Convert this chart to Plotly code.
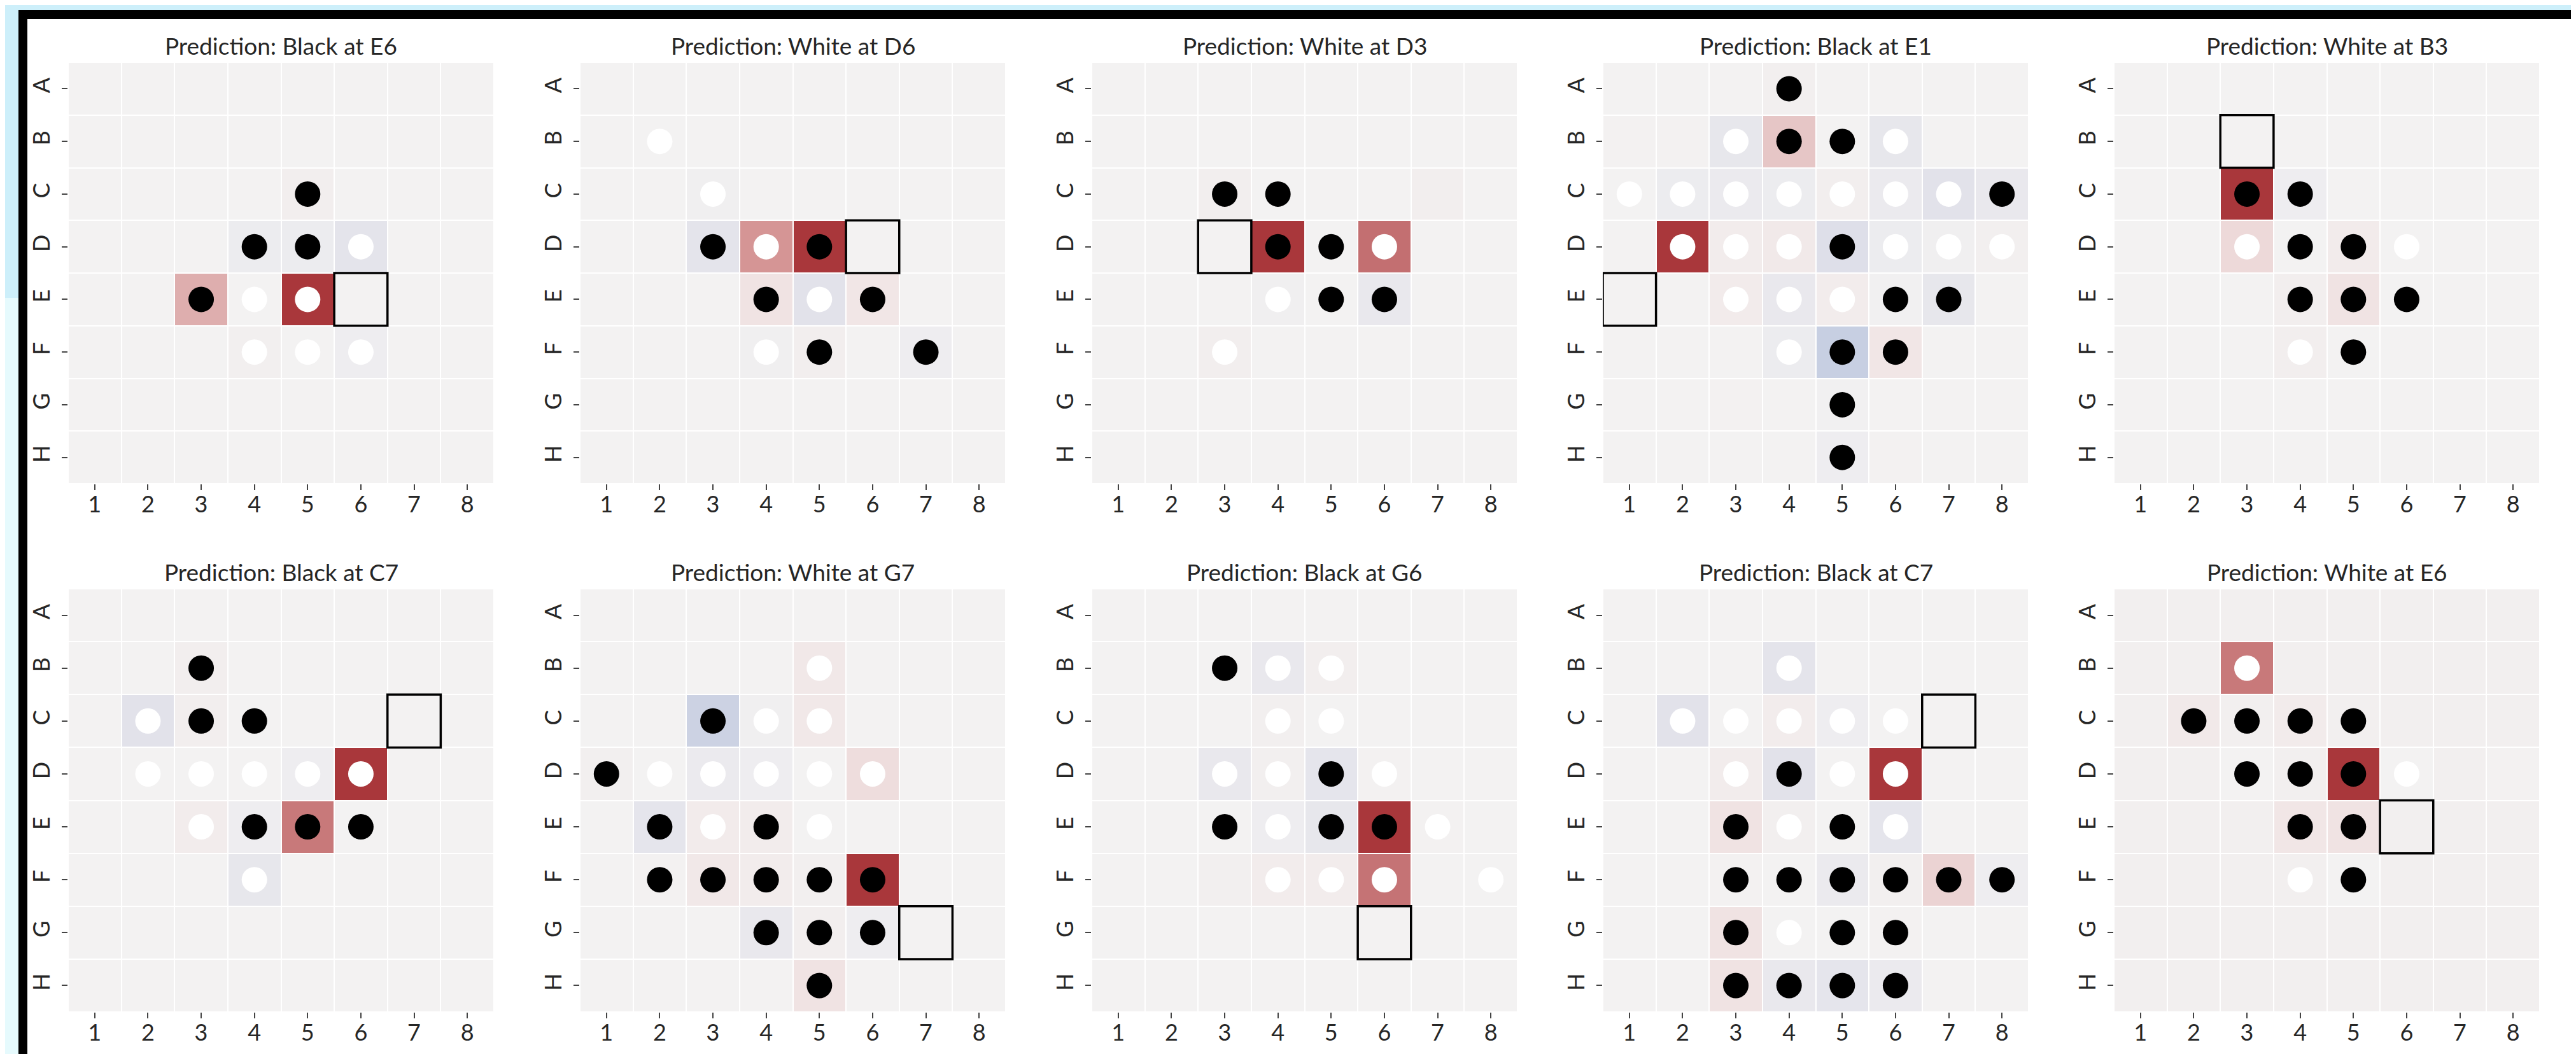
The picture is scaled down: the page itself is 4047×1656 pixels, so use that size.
import plotly.graph_objects as go

ROWS = ["A", "B", "C", "D", "E", "F", "G", "H"]
COLS = [1, 2, 3, 4, 5, 6, 7, 8]

TITLES = [
    "Prediction: Black at E6", "Prediction: White at D6", "Prediction: White at D3",
    "Prediction: Black at E1", "Prediction: White at B3",
    "Prediction: Black at C7", "Prediction: White at G7", "Prediction: Black at G6",
    "Prediction: Black at C7", "Prediction: White at E6",
]
PREDICTIONS = ["E6", "D6", "D3", "E1", "B3", "C7", "G7", "G6", "C7", "E6"]

# board states: B = black disc, W = white disc, . = empty
BOARD_1 = ["........", "........", "....B...", "...BBW..", "..BWW...", "...WWW..", "........", "........"]
BOARD_2 = ["........", ".W......", "..W.....", "..BWB...", "...BWB..", "...WB.B.", "........", "........"]
BOARD_3 = ["........", "........", "..BB....", "...BBW..", "...WBB..", "..W.....", "........", "........"]
BOARD_4 = ["...B....", "..WBBW..", "WWWWWWWB", ".WWWBWWW", "..WWWBB.", "...WBB..", "....B...", "....B..."]
BOARD_5 = ["........", "........", "..BB....", "..WBBW..", "...BBB..", "...WB...", "........", "........"]
BOARD_6 = ["........", "..B.....", ".WBB....", ".WWWWW..", "..WBBB..", "...W....", "........", "........"]
BOARD_7 = ["........", "....W...", "..BWW...", "BWWWWW..", ".BWBW...", ".BBBBB..", "...BBB..", "....B..."]
BOARD_8 = ["........", "..BWW...", "...WW...", "..WWBW..", "..BWBBW.", "...WWW.W", "........", "........"]
BOARD_9 = ["........", "...W....", ".WWWWW..", "..WBWW..", "..BWBW..", "..BBBBBB", "..BWBB..", "..BBBB.."]
BOARD_10 = ["........", "..W.....", ".BBBB...", "..BBBW..", "...BB...", "...WB...", "........", "........"]
BOARDS = [BOARD_1, BOARD_2, BOARD_3, BOARD_4, BOARD_5, BOARD_6, BOARD_7, BOARD_8, BOARD_9, BOARD_10]

Z0 = [0, 0, 0, 0, 0, 0, 0, 0]
HEAT_1 = [Z0, Z0,
          [0, 0, 0, 0, 0.03, 0, 0, 0],
          [0, 0, 0, -0.04, -0.04, -0.09, 0, 0],
          [0, 0, 0.37, 0, 1.0, 0, 0, 0],
          [0, 0, 0, 0.02, 0, -0.03, 0, 0],
          Z0, Z0]
HEAT_2 = [Z0, Z0,
          [0, 0, -0.02, 0, 0, 0, 0, 0],
          [0, 0, -0.09, 0.5, 1.0, 0, 0, 0],
          [0, 0, 0, 0.1, -0.1, 0.08, 0, 0],
          [0, 0, 0, -0.02, 0.03, 0, -0.03, 0],
          Z0, Z0]
HEAT_3 = [Z0, Z0,
          [0, 0, 0.03, 0, 0, 0, 0.03, 0],
          [0, 0, 0, 1.0, 0, 0.7, 0, 0],
          [0, 0, 0, -0.02, 0, -0.06, 0, 0],
          [0, 0, 0.03, 0, 0, 0, 0, 0],
          Z0, Z0]
HEAT_4 = [[0, 0, 0, 0.02, 0, 0, 0, 0],
          [0.01, 0.01, -0.07, 0.25, 0, -0.07, 0, 0],
          [0, -0.04, -0.05, -0.04, 0.03, -0.05, -0.1, -0.06],
          [0, 1.0, 0.04, 0.06, -0.12, -0.04, -0.02, 0.02],
          [0, 0, 0.05, -0.06, 0.04, -0.01, -0.07, 0],
          [0, 0, 0, -0.04, -0.22, 0.08, 0, 0],
          [0, 0, 0.01, 0, -0.01, 0, 0, 0],
          [0, 0, 0, 0, -0.03, 0.01, 0, 0]]
HEAT_5 = [Z0, Z0,
          [0, 0, 1.0, -0.03, 0, 0, 0, 0],
          [0, 0, 0.15, 0, 0.05, 0, 0, 0],
          [0, 0, 0, 0.03, 0.1, 0, 0, 0],
          [0, 0, 0, 0.03, 0, 0, 0, 0],
          Z0, Z0]
HEAT_6 = [Z0,
          [0, 0, 0.03, 0, 0, 0, 0, 0],
          [0, -0.1, 0.03, 0, 0, 0, 0, 0],
          [0, 0, 0, 0, -0.03, 1.0, 0, 0],
          [0, 0, 0.04, -0.03, 0.65, 0, 0, 0],
          [0, 0, 0, -0.07, 0, 0, 0, 0],
          Z0, Z0]
HEAT_7 = [Z0,
          [0, 0, 0, 0, 0.07, 0, 0, 0],
          [0, 0, -0.2, -0.02, 0.07, 0, 0, 0],
          [0.02, 0, -0.05, -0.03, 0, 0.13, 0, 0],
          [0, -0.08, 0.05, 0.04, 0, 0, 0, 0],
          [0, 0.01, 0.07, 0.04, 0.02, 1.0, 0, 0],
          [0, 0, 0, -0.06, 0.03, -0.03, 0, 0],
          [0, 0, 0, 0, 0.1, 0, 0, 0]]
HEAT_8 = [Z0,
          [0, 0, 0, -0.06, 0.03, 0, 0, 0],
          [0, 0, 0, 0.02, 0, 0, 0, 0],
          [0, 0, -0.06, 0.02, -0.08, 0.01, 0, 0],
          [0, 0, 0, -0.03, -0.07, 1.0, 0.01, 0],
          [0, 0, 0.02, 0.04, 0.04, 0.68, 0, 0],
          Z0, Z0]
HEAT_9 = [Z0,
          [0, 0, 0, -0.09, 0, 0, 0, 0],
          [0, -0.1, 0, 0.04, -0.03, 0, 0, 0],
          [0, 0, 0.04, -0.1, 0, 1.0, 0, 0],
          [0, 0, 0.1, 0.02, 0, -0.08, 0, 0],
          [0, 0, 0.01, 0, -0.05, 0.02, 0.18, -0.03],
          [0, 0, 0.1, 0, 0, 0.01, 0, 0],
          [0, 0, 0.1, -0.06, -0.08, -0.05, 0, 0]]
HEAT_10 = [[0.02, 0.02, 0.02, 0.02, 0.02, 0.02, 0.02, 0.02],
           [0.02, 0.02, 0.65, 0.02, 0.02, 0.02, 0.02, 0.02],
           [0.02, 0.06, 0.02, 0.05, 0.02, 0.02, 0.02, 0.02],
           [0.02, 0.02, 0.0, 0.02, 1.0, 0.0, 0.02, 0.01],
           [0.02, 0.02, 0.02, 0.08, 0.1, 0.02, 0.02, 0.02],
           [0.02, 0.02, 0.02, 0.02, 0.0, 0.02, 0.02, 0.02],
           [0.02, 0.02, 0.02, 0.02, 0.02, 0.02, 0.02, 0.02],
           [0.02, 0.02, 0.02, 0.02, 0.02, 0.02, 0.02, 0.02]]
HEATS = [HEAT_1, HEAT_2, HEAT_3, HEAT_4, HEAT_5, HEAT_6, HEAT_7, HEAT_8, HEAT_9, HEAT_10]

# ---------------- styling ----------------
W, H = 4047, 1656
FONT = "Lato"
TXT = "#262626"
VLAG = [[0.0, "#2369bd"], [0.3, "#9fb2d6"], [0.45, "#e2e2ea"], [0.5, "#f3f2f2"],
        [0.55, "#f0e3e3"], [0.75, "#d59595"], [1.0, "#a9373b"]]

BOARD_X0 = [99, 903, 1707, 2510, 3313]
BOARD_W = 669
ROW_Y = [(90, 752), (917, 1582)]

fig = go.Figure()
layout = dict(width=W, height=H, margin=dict(l=0, r=0, t=0, b=0),
              paper_bgcolor="white", plot_bgcolor="white", showlegend=False,
              font=dict(family=FONT, color=TXT))
shapes = []
annotations = []

for k in range(10):
    r, c = divmod(k, 5)
    sfx = "" if k == 0 else str(k + 1)
    xa, ya = "x" + sfx, "y" + sfx
    x0 = BOARD_X0[c]
    top, bot = ROW_Y[r]
    layout["xaxis" + sfx] = dict(
        domain=[x0 / W, (x0 + BOARD_W) / W], anchor=ya, range=[0.5, 8.5],
        tickmode="array", tickvals=COLS, ticktext=[str(v) for v in COLS],
        ticks="outside", ticklen=9, tickwidth=2, tickcolor="#444",
        tickfont=dict(size=36, family=FONT, color=TXT),
        showgrid=False, zeroline=False, showline=False, fixedrange=True,
        ticklabelstandoff=-8)
    layout["yaxis" + sfx] = dict(
        domain=[1 - bot / H, 1 - top / H], anchor=xa, range=[8.5, 0.5],
        tickmode="array", tickvals=list(range(1, 9)), ticktext=ROWS,
        ticks="outside", ticklen=9, tickwidth=2, tickcolor="#444", tickangle=-90,
        tickfont=dict(size=36, family=FONT, color=TXT),
        showgrid=False, zeroline=False, showline=False, fixedrange=True,
        ticklabelstandoff=5)

    fig.add_trace(go.Heatmap(
        z=HEATS[k], x=COLS, y=list(range(1, 9)), colorscale=VLAG,
        zmin=-1, zmax=1, showscale=False, xgap=2, ygap=2,
        xaxis=xa, yaxis=ya, hoverinfo="skip"))

    bx, by, wx, wy = [], [], [], []
    for ri, row in enumerate(BOARDS[k]):
        for ci, ch in enumerate(row):
            if ch == "B":
                bx.append(ci + 1); by.append(ri + 1)
            elif ch == "W":
                wx.append(ci + 1); wy.append(ri + 1)
    fig.add_trace(go.Scatter(x=bx, y=by, mode="markers", xaxis=xa, yaxis=ya,
                             marker=dict(size=40, color="black", line=dict(width=0)),
                             hoverinfo="skip"))
    fig.add_trace(go.Scatter(x=wx, y=wy, mode="markers", xaxis=xa, yaxis=ya,
                             marker=dict(size=40, color="white", line=dict(width=0)),
                             hoverinfo="skip"))

    p = PREDICTIONS[k]
    pr = ROWS.index(p[0]) + 1
    pc = int(p[1:])
    shapes.append(dict(type="rect", xref=xa, yref=ya,
                       x0=pc - 0.5, x1=pc + 0.5, y0=pr - 0.5, y1=pr + 0.5,
                       line=dict(color="black", width=3.5), fillcolor="rgba(0,0,0,0)"))

    annotations.append(dict(text=TITLES[k], xref="paper", yref="paper",
                            x=(x0 + BOARD_W / 2) / W, y=1 - (top - 27) / H,
                            xanchor="center", yanchor="middle", showarrow=False,
                            font=dict(size=37, family=FONT, color=TXT)))

# screenshot frame
def prect(px0, py0, px1, py1, color):
    return dict(type="rect", xref="paper", yref="paper",
                x0=px0 / W, x1=px1 / W, y0=1 - py1 / H, y1=1 - py0 / H,
                line=dict(width=0), fillcolor=color, layer="above")

shapes += [
    prect(0, 0, W, 8, "#cdeffa"),
    prect(0, 0, 21, 460, "#cdeffa"),
    prect(0, 460, 21, H, "#e6fafd"),
    prect(21, 8, W, 22, "black"),
    prect(21, 8, 35, H, "black"),
    prect(W - 2, 22, W, H, "#c8c8c8"),
]

layout["shapes"] = shapes
layout["annotations"] = annotations
fig.update_layout(**layout)
fig.write_html("out.html")
